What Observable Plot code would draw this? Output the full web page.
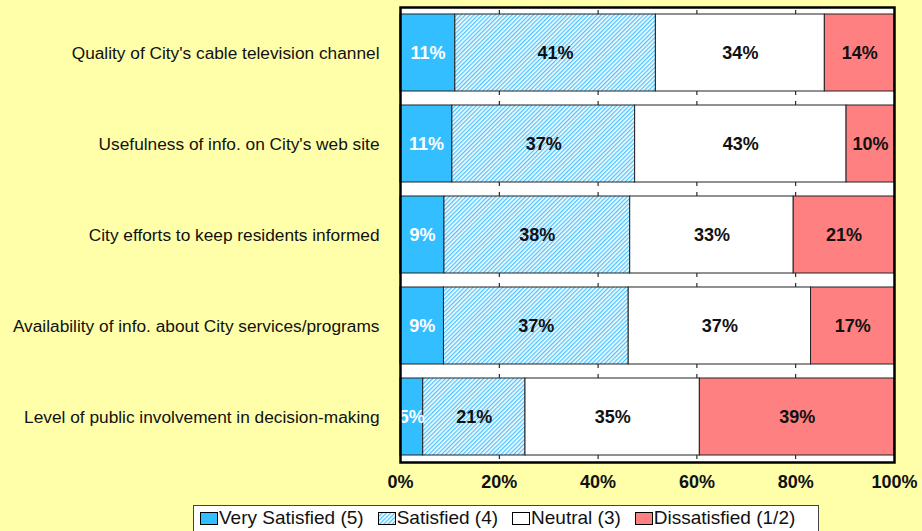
<!DOCTYPE html>
<html>
<head>
<meta charset="utf-8">
<script src="https://cdn.jsdelivr.net/npm/d3@7"></script>
<script src="https://cdn.jsdelivr.net/npm/@observablehq/plot@0.6"></script>
<style>
  html, body { margin: 0; padding: 0; background: #FFFFAA; overflow: hidden; }
  body { font-family: "Liberation Sans", Arial, sans-serif; width: 922px; height: 531px; }
  #chart svg { display: block; }
  #legend {
    margin-left: 193px; margin-top: 3px; width: 626px; height: 40px;
    background: #fff; border: 1px solid #444; box-sizing: border-box;
    display: flex; align-items: flex-start; padding: 1px 0 0 6px; gap: 14px;
    font-size: 19px; color: #111; line-height: 22px;
  }
  .item { display: flex; align-items: center; white-space: nowrap; }
  .item svg { margin-right: 1px; }
</style>
</head>
<body>
<div id="chart"></div>
<div id="legend"></div>
<script>
const categories = [
  "Quality of City's cable television channel",
  "Usefulness of info. on City's web site",
  "City efforts to keep residents informed",
  "Availability of info. about City services/programs",
  "Level of public involvement in decision-making"
];
const seriesNames = ["Very Satisfied (5)", "Satisfied (4)", "Neutral (3)", "Dissatisfied (1/2)"];
const verySatisfied = [11.1, 10.5, 8.9, 8.8, 4.6];
const satisfied     = [40.6, 37.0, 37.6, 37.4, 20.7];
const neutral       = [34.2, 42.8, 33.1, 36.9, 35.3];
const dissatisfied  = [14.1, 9.7, 20.4, 16.9, 39.4];
const verySatisfiedLabels = ["11%", "11%", "9%", "9%", "5%"];
const satisfiedLabels     = ["41%", "37%", "38%", "37%", "21%"];
const neutralLabels       = ["34%", "43%", "33%", "37%", "35%"];
const dissatisfiedLabels  = ["14%", "10%", "21%", "17%", "39%"];
const xTicks = [0, 20, 40, 60, 80, 100];
const gridTicks = [20, 40, 60, 80];
const seriesColors = ["#33BEFF", "url(#hatch)", "#FFFFFF", "#FF8080"];

const valueSets = [verySatisfied, satisfied, neutral, dissatisfied];
const labelSets = [verySatisfiedLabels, satisfiedLabels, neutralLabels, dissatisfiedLabels];
const data = [];
categories.forEach((c, i) => {
  seriesNames.forEach((s, j) => {
    data.push({category: c, series: s, value: valueSets[j][i], label: labelSets[j][i]});
  });
});
const gridData = [];
categories.forEach(c => gridTicks.forEach(t => gridData.push({category: c, tick: t})));

const stackOpts = {x: "value", y: "category", z: "series", order: seriesNames};

const chart = Plot.plot({
  width: 922,
  height: 502,
  marginLeft: 400,
  marginRight: 28,
  marginTop: 7,
  marginBottom: 40,
  style: {background: "transparent", fontFamily: "'Liberation Sans', Arial, sans-serif"},
  x: {domain: [0, 100], axis: null},
  y: {domain: categories, paddingInner: 0.15, paddingOuter: 0.075, axis: null},
  color: {domain: seriesNames, range: seriesColors},
  marks: [
    Plot.frame({fill: "white"}),
    Plot.tickX(gridData, {x: "tick", y: "category", stroke: "#000", strokeWidth: 1, insetTop: -4, insetBottom: -4}),
    Plot.barX(data, Plot.stackX({...stackOpts, fill: "series", stroke: "#222", strokeWidth: 1})),
    Plot.text(data, Plot.stackX({...stackOpts,
      text: d => d.series === seriesNames[0] ? d.label : null,
      fill: "white", fontWeight: "bold", fontSize: 18})),
    Plot.text(data, Plot.stackX({...stackOpts,
      text: d => d.series !== seriesNames[0] ? d.label : null,
      fill: "#111", fontWeight: "bold", fontSize: 18})),
    Plot.frame({stroke: "#000", strokeWidth: 2.5}),
    Plot.axisX(xTicks, {tickSize: 0, tickPadding: 13, tickFormat: d => d + "%",
      fontWeight: "bold", fontSize: 18, fill: "#111", label: null}),
    Plot.axisY({tickSize: 0, tickPadding: 21, fontSize: 17.3, fill: "#111", label: null})
  ]
});

// hatch pattern definition
const ns = "http://www.w3.org/2000/svg";
function addHatch(svg, id, size) {
  const defs = document.createElementNS(ns, "defs");
  const pat = document.createElementNS(ns, "pattern");
  pat.setAttribute("id", id);
  pat.setAttribute("patternUnits", "userSpaceOnUse");
  pat.setAttribute("width", size);
  pat.setAttribute("height", size);
  pat.setAttribute("patternTransform", "rotate(45)");
  const r = document.createElementNS(ns, "rect");
  r.setAttribute("width", size); r.setAttribute("height", size); r.setAttribute("fill", "#fff");
  const l = document.createElementNS(ns, "rect");
  l.setAttribute("width", size * 0.45); l.setAttribute("height", size); l.setAttribute("fill", "#4CC4FF");
  pat.appendChild(r); pat.appendChild(l);
  defs.appendChild(pat);
  svg.insertBefore(defs, svg.firstChild);
}
addHatch(chart, "hatch", 3);
document.getElementById("chart").appendChild(chart);

// legend
const legend = document.getElementById("legend");
seriesNames.forEach((s, j) => {
  const item = document.createElement("div");
  item.className = "item";
  const sw = document.createElementNS(ns, "svg");
  sw.setAttribute("width", 18); sw.setAttribute("height", 13);
  if (j === 1) addHatch(sw, "hatchLegend", 3);
  const rect = document.createElementNS(ns, "rect");
  rect.setAttribute("x", 0.5); rect.setAttribute("y", 0.5);
  rect.setAttribute("width", 17); rect.setAttribute("height", 12);
  rect.setAttribute("fill", j === 1 ? "url(#hatchLegend)" : seriesColors[j]);
  rect.setAttribute("stroke", "#000");
  sw.appendChild(rect);
  const t = document.createElement("span");
  t.textContent = s;
  item.appendChild(sw); item.appendChild(t);
  legend.appendChild(item);
});
</script>
</body>
</html>
